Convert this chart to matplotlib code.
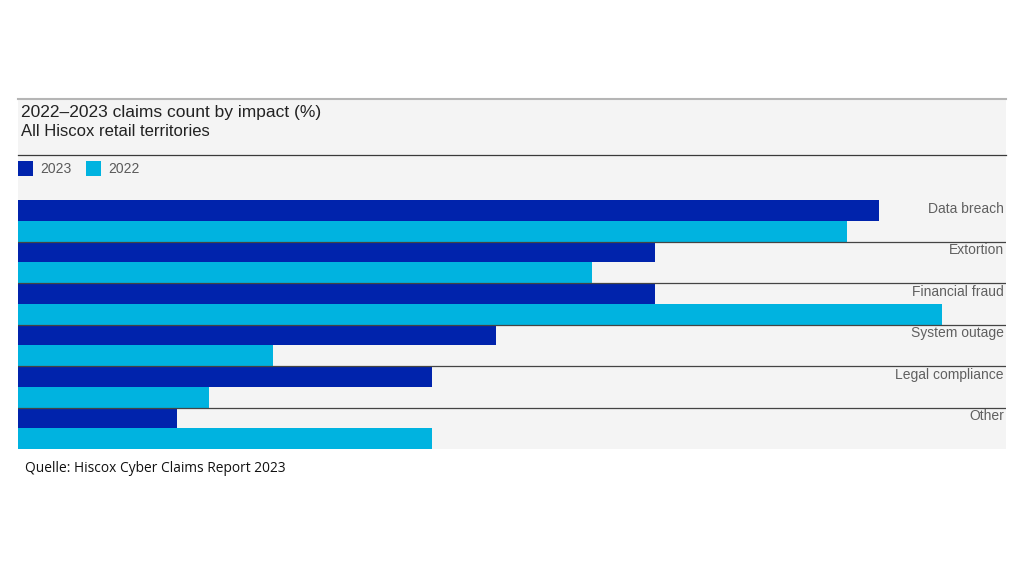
import matplotlib
matplotlib.use("Agg")
import matplotlib.pyplot as plt
from matplotlib.patches import Rectangle
from matplotlib.lines import Line2D

categories = ["Data breach", "Extortion", "Financial fraud", "System outage", "Legal compliance", "Other"]
values_2023 = [27, 20, 20, 15, 13, 5]
values_2022 = [26, 18, 29, 8, 6, 13]
series_labels = ["2023", "2022"]
title = "2022\u20132023 claims count by impact (%)"
subtitle = "All Hiscox retail territories"
source = "Quelle: Hiscox Cyber Claims Report 2023"

C23 = "#0023AC"
C22 = "#00B3E0"
BG = "#F4F4F4"

W, H = 1021, 573
fig = plt.figure(figsize=(W / 100, H / 100), dpi=100)
fig.patch.set_facecolor("white")

def fx(px):
    return px / W

def fy(py):
    return 1 - py / H

left, right = 18, 1006
# panel background
fig.patches.append(Rectangle((fx(left), fy(449)), fx(right - left), (449 - 99) / H,
                             transform=fig.transFigure, facecolor=BG, edgecolor="none", zorder=-5))
fig.lines.append(Line2D([fx(left), fx(right)], [fy(99), fy(99)], transform=fig.transFigure,
                        color="#b5b5b5", lw=1.5))
fig.lines.append(Line2D([fx(left), fx(right)], [fy(155), fy(155)], transform=fig.transFigure,
                        color="#3a3a3a", lw=0.9))

font = "Liberation Sans"
fig.text(fx(21), fy(113), title, fontsize=12.5, family=font, color="#222222", va="center", ha="left")
fig.text(fx(21), fy(132), subtitle, fontsize=12, family=font, color="#222222", va="center", ha="left")

# legend
for i, (lab, col) in enumerate(zip(series_labels, [C23, C22])):
    x0 = 18 + i * 68
    fig.patches.append(Rectangle((fx(x0), fy(176)), fx(15), 15 / H, transform=fig.transFigure,
                                 facecolor=col, edgecolor="none"))
    fig.text(fx(x0 + 22), fy(169), lab, fontsize=10, family=font, color="#5a5a5a",
             va="center", ha="left")

fig.text(fx(25), fy(468), source, fontsize=9.9, family="Open Sans", color="#111111",
         va="center", ha="left")

# bars axes
top, bottom = 200, 449
ax = fig.add_axes([fx(left), fy(bottom), fx(right - left), (bottom - top) / H])
ax.set_zorder(5)
ax.set_facecolor("none")
n = len(categories)
ax.set_xlim(0, 31)
ax.set_ylim(n * 2, 0)
for i, cat in enumerate(categories):
    ax.barh(i * 2 + 0.5, values_2023[i], height=1.0, color=C23, edgecolor="none")
    ax.barh(i * 2 + 1.5, values_2022[i], height=1.0, color=C22, edgecolor="none")
    if i > 0:
        ax.axhline(i * 2, color="#444444", lw=0.9, zorder=3)
    ax.text(30.93, i * 2 + 0.42, cat, fontsize=10, family=font, color="#606060",
            ha="right", va="center", zorder=4)
ax.axis("off")

fig.savefig("out.png", dpi=100, facecolor="white")
